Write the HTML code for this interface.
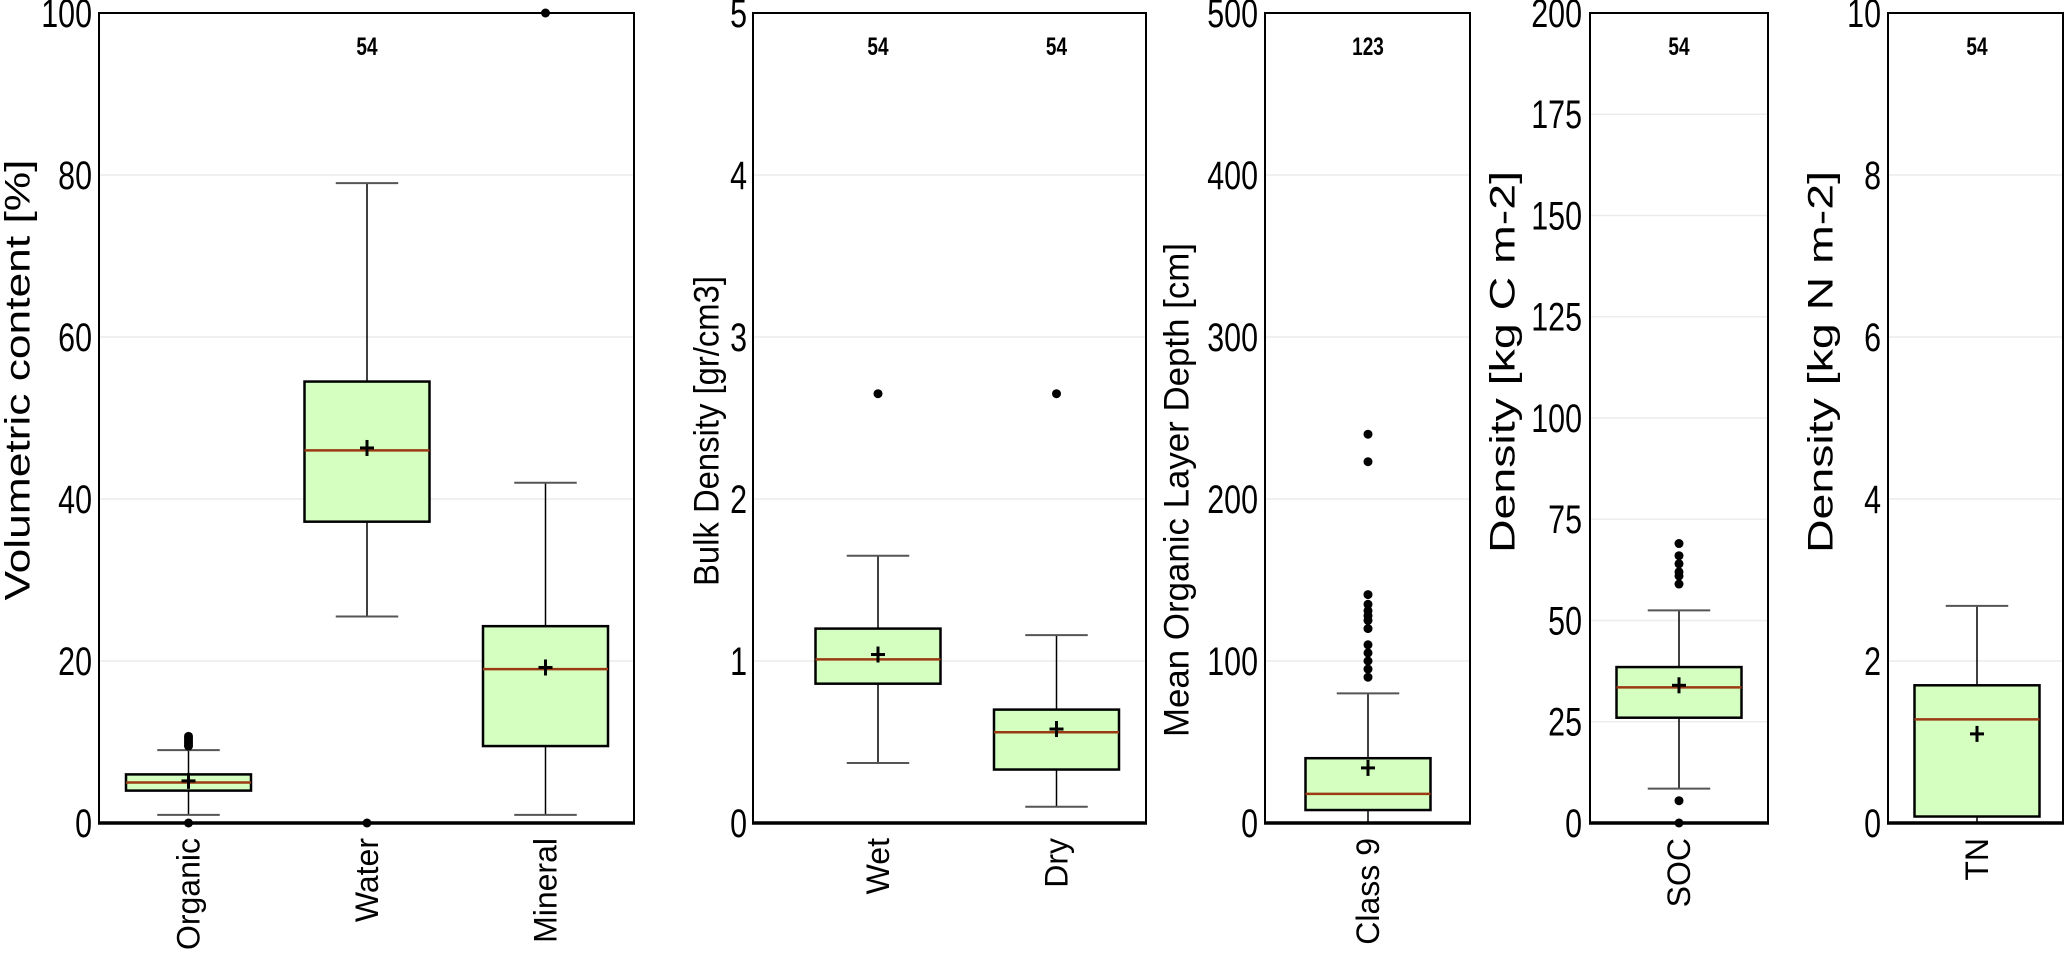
<!DOCTYPE html>
<html><head><meta charset="utf-8">
<style>
html,body{margin:0;padding:0;background:#fff;}
svg{display:block;font-family:"Liberation Sans",Arial,sans-serif;}
</style></head>
<body>
<svg id="chart" width="2067" height="960" viewBox="0 0 2067 960"></svg>
<script>
// ---- Panel 1: Volumetric content ----
const p1Categories = ["Organic", "Water", "Mineral"];
const p1WhiskerLow = [1, 25.5, 1];
const p1Q1 = [4, 37.2, 9.5];
const p1Median = [5, 46, 19];
const p1Q3 = [6, 54.5, 24.3];
const p1WhiskerHigh = [9, 79, 42];
const p1Mean = [5.2, 46.3, 19.2];
const p1Outliers = [[0, 9.5, 9.8, 10.1, 10.4, 10.7], [0], [100]];
const p1Ticks = [0, 20, 40, 60, 80, 100];
const p1Count = ["54"];

// ---- Panel 2: Bulk density ----
const p2Categories = ["Wet", "Dry"];
const p2WhiskerLow = [0.37, 0.1];
const p2Q1 = [0.86, 0.33];
const p2Median = [1.01, 0.56];
const p2Q3 = [1.2, 0.7];
const p2WhiskerHigh = [1.65, 1.16];
const p2Mean = [1.04, 0.58];
const p2Outliers = [[2.65], [2.65]];
const p2Ticks = [0, 1, 2, 3, 4, 5];
const p2Count = ["54", "54"];

// ---- Panel 3: Organic layer depth ----
const p3Categories = ["Class 9"];
const p3WhiskerLow = [0];
const p3Q1 = [8];
const p3Median = [18];
const p3Q3 = [40];
const p3WhiskerHigh = [80];
const p3Mean = [34];
const p3Outliers = [[90, 95, 100, 105, 110, 120, 125, 128, 131, 135, 141, 223, 240]];
const p3Ticks = [0, 100, 200, 300, 400, 500];
const p3Count = ["123"];

// ---- Panel 4: SOC density ----
const p4Categories = ["SOC"];
const p4WhiskerLow = [8.5];
const p4Q1 = [26];
const p4Median = [33.5];
const p4Q3 = [38.5];
const p4WhiskerHigh = [52.5];
const p4Mean = [34];
const p4Outliers = [[0, 5.5, 59, 61, 62, 64, 66, 69]];
const p4Ticks = [0, 25, 50, 75, 100, 125, 150, 175, 200];
const p4Count = ["54"];

// ---- Panel 5: TN density ----
const p5Categories = ["TN"];
const p5WhiskerLow = [0];
const p5Q1 = [0.08];
const p5Median = [1.28];
const p5Q3 = [1.7];
const p5WhiskerHigh = [2.68];
const p5Mean = [1.1];
const p5Outliers = [[]];
const p5Ticks = [0, 2, 4, 6, 8, 10];
const p5Count = ["54"];

const NS = "http://www.w3.org/2000/svg";
const svg = document.getElementById("chart");
function mk(tag, attrs, parent) {
  const e = document.createElementNS(NS, tag);
  for (const k in attrs) e.setAttribute(k, attrs[k]);
  (parent || svg).appendChild(e);
  return e;
}
const TOP = 13, BOTTOM = 823, SPACING = 178.5, BOXW = 125, CX = 0.76;

function panel(cfg) {
  const g = mk("g", {});
  
  
  const max = cfg.ticks[cfg.ticks.length - 1];
  const y = v => BOTTOM - (v / max) * (BOTTOM - TOP);
  const x = i => cfg.firstCenter + i * SPACING;
  cfg.ticks.forEach(t => {
    const ln = mk("line", {x1: cfg.left, x2: cfg.right, y1: y(t), y2: y(t), stroke: "#ececec", "stroke-width": 1.5}, g);
    
    
    const tx = mk("text", {x: cfg.tickRight / CX, y: y(t) + 14, "text-anchor": "end", "font-size": 40, fill: "#000",
      transform: `scale(${CX},1)`}, g);
    tx.textContent = t;
    
    
  });
  const at = mk("text", {x: 0, y: 0, "text-anchor": "middle", "font-size": 35, fill: "#000",
    textLength: cfg.titleLen, lengthAdjust: "spacingAndGlyphs",
    transform: `translate(${cfg.titleX} ${cfg.titleY}) rotate(-90)`, "dominant-baseline": "middle"}, g);
  at.textContent = cfg.title;
  
  
  cfg.cats.forEach((c, i) => {
    const cx = x(i);
    const bg = mk("g", {}, g);
    
    
    mk("line", {x1: cx, x2: cx, y1: y(cfg.wl[i]), y2: y(cfg.q1[i]), stroke: "#000", "stroke-width": 1.5}, bg);
    mk("line", {x1: cx, x2: cx, y1: y(cfg.q3[i]), y2: y(cfg.wh[i]), stroke: "#000", "stroke-width": 1.5}, bg);
    mk("line", {x1: cx - BOXW / 4, x2: cx + BOXW / 4, y1: y(cfg.wl[i]), y2: y(cfg.wl[i]), stroke: "#555", "stroke-width": 2}, bg);
    mk("line", {x1: cx - BOXW / 4, x2: cx + BOXW / 4, y1: y(cfg.wh[i]), y2: y(cfg.wh[i]), stroke: "#555", "stroke-width": 2}, bg);
    mk("rect", {x: cx - BOXW / 2, y: y(cfg.q3[i]), width: BOXW, height: y(cfg.q1[i]) - y(cfg.q3[i]),
      fill: "#d4ffc0", stroke: "#000", "stroke-width": 2.5}, bg);
    mk("line", {x1: cx - BOXW / 2, x2: cx + BOXW / 2, y1: y(cfg.med[i]), y2: y(cfg.med[i]), stroke: "#9a3a12", "stroke-width": 2.5}, bg);
    const my = y(cfg.mean[i]);
    mk("line", {x1: cx - 7, x2: cx + 7, y1: my, y2: my, stroke: "#000", "stroke-width": 3}, bg);
    mk("line", {x1: cx, x2: cx, y1: my - 8, y2: my + 8, stroke: "#000", "stroke-width": 3}, bg);
    cfg.out[i].forEach(v => {
      const d = mk("circle", {cx: cx, cy: y(v), r: 4.5, fill: "#000"}, bg);
      
      
    });
    const xl = mk("text", {x: 0, y: 0, "text-anchor": "end", "font-size": 32, fill: "#000",
      transform: `translate(${cx + 11} 838) rotate(-90)`}, g);
    xl.textContent = c;
    
    
  });
  cfg.counts.forEach((n, k) => {
    const ci = cfg.countIdx[k];
    const t = mk("text", {x: x(ci) / CX, y: 55, "text-anchor": "middle", "font-size": 25, "font-weight": "bold", fill: "#000",
      transform: `scale(${CX},1)`}, g);
    t.textContent = n;
    
    
  });
  mk("rect", {x: cfg.left, y: TOP, width: cfg.right - cfg.left, height: BOTTOM - TOP, fill: "none", stroke: "#000", "stroke-width": 2}, g);
  mk("line", {x1: cfg.left - 1, x2: cfg.right + 1, y1: BOTTOM, y2: BOTTOM, stroke: "#000", "stroke-width": 3.5}, g);
}

panel({name: "volumetric", left: 99, right: 634, firstCenter: 188.5, tickRight: 92, titleX: 20, titleY: 380, titleLen: 441,
  title: "Volumetric content [%]", ticks: p1Ticks, cats: p1Categories, wl: p1WhiskerLow, q1: p1Q1,
  med: p1Median, q3: p1Q3, wh: p1WhiskerHigh, mean: p1Mean, out: p1Outliers, counts: p1Count, countIdx: [1]});
panel({name: "bulk-density", left: 753, right: 1146, firstCenter: 878, tickRight: 747, titleX: 709, titleY: 431, titleLen: 310,
  title: "Bulk Density [gr/cm3]", ticks: p2Ticks, cats: p2Categories, wl: p2WhiskerLow, q1: p2Q1,
  med: p2Median, q3: p2Q3, wh: p2WhiskerHigh, mean: p2Mean, out: p2Outliers, counts: p2Count, countIdx: [0, 1]});
panel({name: "organic-depth", left: 1265, right: 1470, firstCenter: 1368, tickRight: 1258, titleX: 1179, titleY: 490, titleLen: 494,
  title: "Mean Organic Layer Depth [cm]", ticks: p3Ticks, cats: p3Categories, wl: p3WhiskerLow, q1: p3Q1,
  med: p3Median, q3: p3Q3, wh: p3WhiskerHigh, mean: p3Mean, out: p3Outliers, counts: p3Count, countIdx: [0]});
panel({name: "soc-density", left: 1590, right: 1768, firstCenter: 1679, tickRight: 1582, titleX: 1505, titleY: 362, titleLen: 382,
  title: "Density [kg C m-2]", ticks: p4Ticks, cats: p4Categories, wl: p4WhiskerLow, q1: p4Q1,
  med: p4Median, q3: p4Q3, wh: p4WhiskerHigh, mean: p4Mean, out: p4Outliers, counts: p4Count, countIdx: [0]});
panel({name: "tn-density", left: 1888, right: 2063, firstCenter: 1977, tickRight: 1881, titleX: 1823, titleY: 362, titleLen: 382,
  title: "Density [kg N m-2]", ticks: p5Ticks, cats: p5Categories, wl: p5WhiskerLow, q1: p5Q1,
  med: p5Median, q3: p5Q3, wh: p5WhiskerHigh, mean: p5Mean, out: p5Outliers, counts: p5Count, countIdx: [0]});
</script>
</body></html>
